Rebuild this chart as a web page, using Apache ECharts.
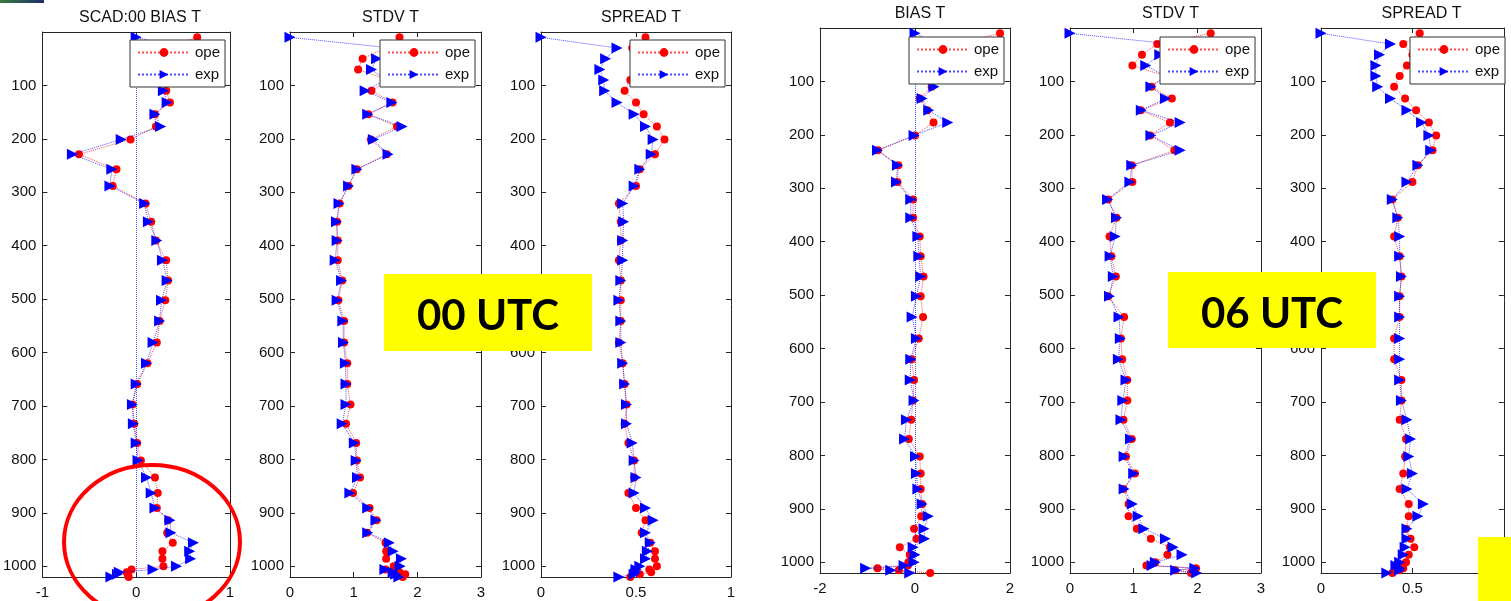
<!DOCTYPE html>
<html>
<head>
<meta charset="utf-8">
<script src="https://cdn.jsdelivr.net/npm/echarts@6/dist/echarts.min.js"></script>
<style>
  html, body { margin: 0; padding: 0; background: #ffffff; }
  #chart { width: 1511px; height: 601px; }
</style>
</head>
<body>
<div id="chart"></div>
<script>
// Pressure levels (hPa) of the verification profile
const levels = [10, 30, 50, 70, 90, 110, 132, 154, 177, 201, 229, 257, 288, 321, 355, 390, 427, 465, 502,
  541, 581, 620, 659, 697, 733, 769, 802, 834, 863, 891, 914, 937, 956, 972, 986, 1000, 1006, 1011, 1015, 1020];

// 00 UTC run
const bias00Ope = [0.65, 0.25, 0.30, 0.35, 0.33, 0.32, 0.36, 0.20, 0.21, -0.06, -0.61, -0.21, -0.25, 0.10, 0.16, 0.21, 0.32, 0.34, 0.31,
  0.25, 0.22, 0.12, 0.01, -0.04, -0.02, 0.01, 0.05, 0.20, 0.23, 0.22, 0.34, 0.33, 0.39, 0.28, 0.28, 0.29, -0.05, -0.10, -0.09, -0.08];
const bias00Exp = [0.00, 0.50, 0.40, 0.35, 0.30, 0.29, 0.33, 0.20, 0.26, -0.16, -0.68, -0.26, -0.28, 0.09, 0.13, 0.22, 0.28, 0.33, 0.27,
  0.25, 0.18, 0.11, 0.00, -0.04, -0.03, 0.00, 0.02, 0.11, 0.16, 0.20, 0.36, 0.37, 0.61, 0.57, 0.58, 0.43, 0.18, -0.18, -0.20, -0.27];
const stdv00Ope = [1.72, 1.50, 1.14, 1.07, 1.55, 1.28, 1.61, 1.23, 1.68, 1.27, 1.52, 1.05, 0.92, 0.78, 0.74, 0.75, 0.75, 0.82, 0.76,
  0.85, 0.85, 0.90, 0.90, 0.95, 0.88, 1.04, 1.05, 1.10, 0.99, 1.25, 1.36, 1.21, 1.50, 1.51, 1.51, 1.63, 1.50, 1.72, 1.81, 1.77];
const stdv00Exp = [0.00, 1.60, 1.36, 1.28, 1.50, 1.18, 1.60, 1.22, 1.76, 1.31, 1.54, 1.05, 0.92, 0.77, 0.73, 0.74, 0.71, 0.81, 0.74,
  0.83, 0.84, 0.87, 0.88, 0.88, 0.82, 1.01, 1.04, 1.06, 0.94, 1.22, 1.35, 1.22, 1.56, 1.62, 1.75, 1.73, 1.49, 1.62, 1.66, 1.71];
const spread00Ope = [0.55, 0.48, 0.52, 0.50, 0.47, 0.44, 0.50, 0.54, 0.61, 0.65, 0.60, 0.52, 0.50, 0.41, 0.42, 0.42, 0.41, 0.42, 0.42,
  0.42, 0.41, 0.43, 0.44, 0.45, 0.44, 0.46, 0.49, 0.49, 0.46, 0.50, 0.55, 0.53, 0.575, 0.60, 0.60, 0.61, 0.57, 0.58, 0.52, 0.47];
const spread00Exp = [0.00, 0.40, 0.34, 0.31, 0.33, 0.335, 0.40, 0.49, 0.55, 0.59, 0.58, 0.52, 0.49, 0.43, 0.435, 0.43, 0.43, 0.42, 0.41,
  0.42, 0.42, 0.43, 0.44, 0.45, 0.45, 0.48, 0.49, 0.50, 0.49, 0.55, 0.59, 0.55, 0.575, 0.56, 0.55, 0.52, 0.50, 0.50, 0.49, 0.41];

// 06 UTC run
const bias06Ope = [1.79, 0.80, 0.60, 0.50, 0.45, 0.35, 0.10, 0.26, 0.39, 0.00, -0.78, -0.35, -0.37, -0.04, -0.04, 0.10, 0.12, 0.18, 0.12,
  0.17, 0.08, -0.07, -0.02, -0.04, -0.08, -0.13, 0.10, 0.12, 0.12, 0.15, 0.13, -0.02, 0.03, -0.32, -0.11, -0.14, -0.15, -0.79, -0.34, 0.32];
const bias06Exp = [0.00, 0.50, 0.40, 0.35, 0.40, 0.40, 0.15, 0.29, 0.69, -0.02, -0.79, -0.37, -0.39, -0.09, -0.09, 0.06, 0.08, 0.12, 0.03,
  -0.06, 0.03, -0.09, -0.10, -0.02, -0.18, -0.22, 0.01, 0.03, 0.06, 0.15, 0.28, 0.19, 0.20, -0.04, 0.00, -0.02, -0.23, -1.04, -0.51, -0.11];
const stdv06Ope = [2.21, 1.37, 1.13, 0.98, 1.50, 1.28, 1.60, 1.11, 1.57, 1.26, 1.64, 0.97, 0.98, 0.60, 0.73, 0.62, 0.65, 0.72, 0.60,
  0.85, 0.80, 0.82, 0.90, 0.90, 0.84, 0.97, 0.88, 1.02, 0.84, 0.92, 0.92, 1.05, 1.27, 1.57, 1.53, 1.34, 1.20, 1.98, 1.65, 1.90];
const stdv06Exp = [0.00, 1.60, 1.41, 1.19, 1.50, 1.27, 1.50, 1.12, 1.73, 1.27, 1.73, 0.97, 0.94, 0.59, 0.73, 0.71, 0.63, 0.68, 0.62,
  0.77, 0.79, 0.76, 0.88, 0.83, 0.80, 0.95, 0.85, 1.00, 0.85, 0.98, 1.07, 1.16, 1.50, 1.62, 1.76, 1.34, 1.29, 1.96, 1.66, 1.99];
const spread06Ope = [0.54, 0.45, 0.50, 0.47, 0.43, 0.40, 0.46, 0.52, 0.59, 0.63, 0.61, 0.53, 0.50, 0.39, 0.42, 0.40, 0.43, 0.44, 0.43,
  0.43, 0.40, 0.40, 0.44, 0.44, 0.43, 0.465, 0.46, 0.45, 0.43, 0.48, 0.48, 0.465, 0.49, 0.51, 0.48, 0.465, 0.43, 0.45, 0.43, 0.39];
const spread06Exp = [0.00, 0.38, 0.32, 0.30, 0.30, 0.31, 0.38, 0.47, 0.55, 0.59, 0.60, 0.53, 0.47, 0.39, 0.42, 0.43, 0.43, 0.44, 0.43,
  0.43, 0.43, 0.43, 0.43, 0.44, 0.47, 0.49, 0.48, 0.50, 0.47, 0.56, 0.53, 0.47, 0.47, 0.46, 0.45, 0.43, 0.41, 0.43, 0.43, 0.36];

// Axis tick labels
const pressureTicks = [100, 200, 300, 400, 500, 600, 700, 800, 900, 1000];
const bias00Ticks = [-1, 0, 1];
const stdvTicks = [0, 1, 2, 3];
const spreadTicks = [0, 0.5, 1];
const bias06Ticks = [-2, 0, 2];

const panelTitles = ['SCAD:00 BIAS T', 'STDV T', 'SPREAD T', 'BIAS T', 'STDV T', 'SPREAD T'];
const seriesNames = ['ope', 'exp'];
const runLabels = ['00 UTC', '06 UTC'];

const panels = [
  { title: panelTitles[0], ticks: bias00Ticks, ope: bias00Ope, exp: bias00Exp, zero: true,
    box: { left: 40, top: 32, width: 190, height: 545 }, legend: { left: 130, top: 40 } },
  { title: panelTitles[1], ticks: stdvTicks, ope: stdv00Ope, exp: stdv00Exp,
    box: { left: 290, top: 32, width: 191, height: 545 }, legend: { left: 380, top: 40 } },
  { title: panelTitles[2], ticks: spreadTicks, ope: spread00Ope, exp: spread00Exp,
    box: { left: 541, top: 32, width: 190, height: 545 }, legend: { left: 630, top: 40 } },
  { title: panelTitles[3], ticks: bias06Ticks, ope: bias06Ope, exp: bias06Exp, zero: true,
    box: { left: 820, top: 28, width: 190, height: 545 }, legend: { left: 909, top: 37 } },
  { title: panelTitles[4], ticks: stdvTicks, ope: stdv06Ope, exp: stdv06Exp,
    box: { left: 1070, top: 28, width: 191, height: 545 }, legend: { left: 1160, top: 37 } },
  { title: panelTitles[5], ticks: spreadTicks, ope: spread06Ope, exp: spread06Exp,
    box: { left: 1321, top: 28, width: 191, height: 545 }, legend: { left: 1410, top: 37 } }
];

const FONT = "'Liberation Sans', Arial, sans-serif";
const AX = '#262626';
const RED = '#ff0000';
const BLUE = '#0000ff';

const pairs = vals => vals.map((v, i) => [v, levels[i]]);

const grid = [], xAxis = [], yAxis = [], series = [], title = [], legend = [];

panels.forEach((p, i) => {
  grid.push(Object.assign({ containLabel: false }, p.box));
  const xmin = p.ticks[0], xmax = p.ticks[p.ticks.length - 1], xint = p.ticks[1] - p.ticks[0];
  const xBase = {
    type: 'value', gridIndex: i, min: xmin, max: xmax, interval: xint,
    splitLine: { show: false },
    axisLine: { show: true, onZero: false, lineStyle: { color: AX, width: 1 } },
    axisTick: { show: true, inside: true, length: 5, lineStyle: { color: AX } }
  };
  xAxis.push(Object.assign({}, xBase, {
    position: 'bottom',
    axisLabel: { show: true, margin: 8, color: '#111', fontSize: 15, fontFamily: FONT,
      formatter: v => String(v) }
  }));
  xAxis.push(Object.assign({}, xBase, { position: 'top', axisLabel: { show: false } }));

  const yBase = {
    type: 'value', gridIndex: i, inverse: true, min: 0, max: 1020, interval: 100,
    splitLine: { show: false },
    axisLine: { show: true, onZero: false, lineStyle: { color: AX, width: 1 } },
    axisTick: { show: true, inside: true, length: 5, lineStyle: { color: AX } }
  };
  yAxis.push(Object.assign({}, yBase, {
    position: 'left',
    axisLabel: { show: true, margin: 6, color: '#111', fontSize: 15, fontFamily: FONT,
      formatter: v => (pressureTicks.indexOf(v) >= 0 ? String(v) : '') }
  }));
  yAxis.push(Object.assign({}, yBase, { position: 'right', axisLabel: { show: false } }));

  const opeSeries = {
    type: 'line', name: seriesNames[0], xAxisIndex: 2 * i, yAxisIndex: 2 * i,
    data: pairs(p.ope), symbol: 'circle', symbolSize: 8,
    itemStyle: { color: RED },
    lineStyle: { color: RED, type: 'dotted', width: 1, opacity: 0.7 },
    z: 3
  };
  const expSeries = {
    type: 'line', name: seriesNames[1], xAxisIndex: 2 * i, yAxisIndex: 2 * i,
    data: pairs(p.exp), symbol: 'triangle', symbolSize: 11, symbolRotate: -90,
    itemStyle: { color: BLUE },
    lineStyle: { color: BLUE, type: 'dotted', width: 1, opacity: 0.7 },
    z: 4
  };
  if (p.zero) {
    expSeries.markLine = {
      silent: true, symbol: 'none', label: { show: false },
      lineStyle: { color: BLUE, type: 'dotted', width: 1, opacity: 0.7 },
      data: [{ xAxis: 0 }]
    };
  }
  series.push(opeSeries, expSeries);

  title.push({
    text: p.title,
    left: p.box.left + p.box.width / 2,
    top: p.box.top - 27,
    textAlign: 'center',
    textStyle: { fontSize: 16, fontWeight: 'normal', color: '#111', fontFamily: FONT }
  });

  legend.push({
    data: seriesNames.slice(),
    orient: 'vertical',
    left: p.legend.left, top: p.legend.top,
    itemWidth: 52, itemHeight: 11, itemGap: 5,
    padding: [4, 5, 4, 7],
    backgroundColor: '#ffffff',
    borderColor: '#333333', borderWidth: 1, borderRadius: 0,
    selectedMode: false,
    textStyle: { fontSize: 15, color: '#111', fontFamily: FONT, lineHeight: 17 },
    z: 10
  });
});

const labelFont = { fontSize: 42, fontWeight: 'bold', fontFamily: "Lato, 'Open Sans', sans-serif" };

const graphic = [
  { type: 'rect', shape: { x: 0, y: 0, width: 44, height: 3 }, z: 20,
    style: { fill: new echarts.graphic.LinearGradient(0, 0, 1, 0, [
      { offset: 0, color: '#3a7a3a' }, { offset: 1, color: '#1b2f6a' }]) } },
  { type: 'rect', shape: { x: 384, y: 274, width: 208, height: 77 }, z: 20, style: { fill: '#ffff00' } },
  { type: 'text', x: 488, y: 316, z: 21,
    style: Object.assign({ text: runLabels[0], fill: '#000', align: 'center', verticalAlign: 'middle' }, labelFont) },
  { type: 'rect', shape: { x: 1168, y: 272, width: 208, height: 76 }, z: 20, style: { fill: '#ffff00' } },
  { type: 'text', x: 1272, y: 314, z: 21,
    style: Object.assign({ text: runLabels[1], fill: '#000', align: 'center', verticalAlign: 'middle' }, labelFont) },
  { type: 'rect', shape: { x: 1478, y: 537, width: 40, height: 70 }, z: 20, style: { fill: '#ffff00' } },
  { type: 'ellipse', shape: { cx: 152, cy: 542, rx: 88, ry: 77 }, z: 22,
    style: { fill: 'none', stroke: RED, lineWidth: 4 } }
];

const chart = echarts.init(document.getElementById('chart'), null, { renderer: 'canvas' });
chart.setOption({
  animation: false,
  backgroundColor: '#ffffff',
  title, legend, grid, xAxis, yAxis, series, graphic
});
</script>
</body>
</html>
